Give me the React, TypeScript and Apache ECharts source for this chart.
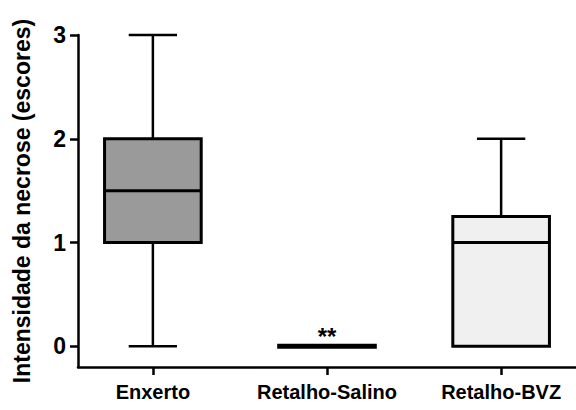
import React, { useEffect, useRef } from "react";
import * as echarts from "echarts";

const categories = ["Enxerto", "Retalho-Salino", "Retalho-BVZ"];
const minValues = [0, 0, 0];
const q1Values = [1, 0, 0];
const medianValues = [1.5, 0, 1];
const q3Values = [2, 0, 1.25];
const maxValues = [3, 0, 2];
const annotations = ["", "**", ""];
const yTicks = [0, 1, 2, 3];
const xTicks = [0, 1, 2];

const boxFills = ["#9a9a9a", "#000000", "#f0f0f0"];
const FONT = "'Liberation Sans', Arial, sans-serif";

export default function App() {
  const ref = useRef<HTMLDivElement>(null);

  useEffect(() => {
    if (!ref.current) return;
    const chart = echarts.init(ref.current, null, { renderer: "svg" });

    const data = categories.map((_, i) => [
      i,
      minValues[i],
      q1Values[i],
      medianValues[i],
      q3Values[i],
      maxValues[i],
    ]);

    const renderItem = (params: any, api: any) => {
      const i = api.value(0);
      const band = api.size([1, 0])[0];
      const boxW = band * 0.555;
      const capW = boxW / 2;
      const pMin = api.coord([i, api.value(1)]);
      const pQ1 = api.coord([i, api.value(2)]);
      const pMed = api.coord([i, api.value(3)]);
      const pQ3 = api.coord([i, api.value(4)]);
      const pMax = api.coord([i, api.value(5)]);
      const cx = pMed[0];
      const lineStyle = { stroke: "#000", lineWidth: 2.5 };
      const children: any[] = [];
      const degenerate = Math.abs(pQ1[1] - pQ3[1]) < 0.5;

      if (Math.abs(pMax[1] - pQ3[1]) > 0.5) {
        children.push({
          type: "line",
          shape: { x1: cx, y1: pQ3[1], x2: cx, y2: pMax[1] },
          style: lineStyle,
        });
        children.push({
          type: "line",
          shape: { x1: cx - capW / 2, y1: pMax[1], x2: cx + capW / 2, y2: pMax[1] },
          style: lineStyle,
        });
      }
      if (Math.abs(pMin[1] - pQ1[1]) > 0.5) {
        children.push({
          type: "line",
          shape: { x1: cx, y1: pQ1[1], x2: cx, y2: pMin[1] },
          style: lineStyle,
        });
        children.push({
          type: "line",
          shape: { x1: cx - capW / 2, y1: pMin[1], x2: cx + capW / 2, y2: pMin[1] },
          style: lineStyle,
        });
      }

      if (degenerate) {
        children.push({
          type: "line",
          shape: { x1: cx - boxW / 2 - 1.5, y1: pMed[1], x2: cx + boxW / 2 + 1.5, y2: pMed[1] },
          style: { stroke: "#000", lineWidth: 5 },
        });
      } else {
        children.push({
          type: "rect",
          shape: { x: cx - boxW / 2, y: pQ3[1], width: boxW, height: pQ1[1] - pQ3[1] },
          style: { fill: boxFills[i], stroke: "#000", lineWidth: 3 },
        });
        children.push({
          type: "line",
          shape: { x1: cx - boxW / 2, y1: pMed[1], x2: cx + boxW / 2, y2: pMed[1] },
          style: { stroke: "#000", lineWidth: 3 },
        });
      }

      const note = annotations[i];
      if (note) {
        children.push({
          type: "text",
          x: cx,
          y: pMax[1] + 2,
          style: {
            text: note,
            fill: "#000",
            font: `bold 24px ${FONT}`,
            align: "center",
            verticalAlign: "bottom",
          },
        });
      }

      return { type: "group", children };
    };

    chart.setOption({
      animation: false,
      backgroundColor: "#ffffff",
      grid: { left: 78, top: 35, right: 0, bottom: 43, containLabel: false },
      xAxis: {
        type: "value",
        min: -0.43,
        max: 2.43,
        splitLine: { show: false },
        axisLine: { show: true, onZero: false, lineStyle: { color: "#000", width: 2.5 } },
        axisTick: {
          show: true,
          customValues: xTicks,
          length: 8,
          lineStyle: { color: "#000", width: 2.5 },
        },
        axisLabel: {
          customValues: xTicks,
          formatter: (v: number) => categories[Math.round(v)] ?? "",
          fontFamily: FONT,
          fontWeight: "bold",
          fontSize: 20,
          color: "#000",
          margin: 15,
        },
      },
      yAxis: {
        type: "value",
        min: -0.2,
        max: 3,
        splitLine: { show: false },
        axisLine: { show: true, onZero: false, lineStyle: { color: "#000", width: 2.5 } },
        axisTick: {
          show: true,
          customValues: yTicks,
          length: 8,
          lineStyle: { color: "#000", width: 2.5 },
        },
        axisLabel: {
          customValues: yTicks,
          fontFamily: FONT,
          fontWeight: "bold",
          fontSize: 23,
          color: "#000",
          margin: 12,
        },
        name: "Intensidade da necrose (escores)",
        nameLocation: "middle",
        nameGap: 45,
        nameTextStyle: {
          fontFamily: FONT,
          fontWeight: "bold",
          fontSize: 23,
          color: "#000",
        },
      },
      series: [
        {
          type: "custom",
          renderItem,
          encode: { x: 0, y: [1, 2, 3, 4, 5] },
          data,
          clip: false,
        },
      ],
    });

    return () => chart.dispose();
  }, []);

  return (
    <div
      ref={ref}
      style={{ position: "fixed", left: 0, top: 0, width: 576, height: 410 }}
    />
  );
}
